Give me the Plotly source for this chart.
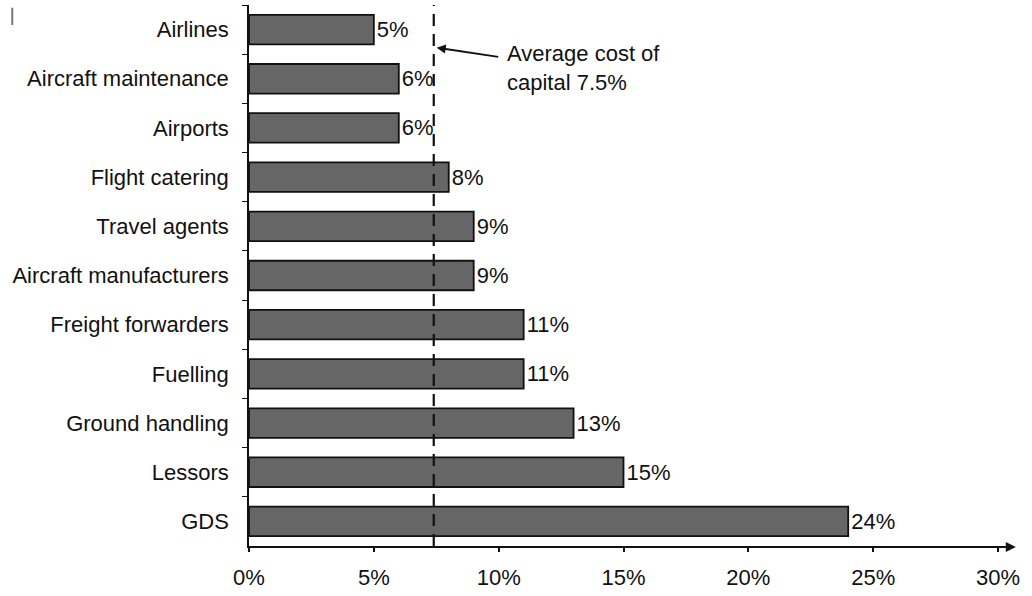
import plotly.graph_objects as go

categories = ["Airlines", "Aircraft maintenance", "Airports", "Flight catering",
              "Travel agents", "Aircraft manufacturers", "Freight forwarders",
              "Fuelling", "Ground handling", "Lessors", "GDS"]
values = [5, 6, 6, 8, 9, 9, 11, 11, 13, 15, 24]
bar_labels = [f"{v}%" for v in values]
avg_cost = 7.4
avg_label = "Average cost of<br>capital 7.5%"
x_ticks = [0, 5, 10, 15, 20, 25, 30]
x_ticktext = [f"{t}%" for t in x_ticks]

FONT = "Liberation Sans, Arial, Helvetica, sans-serif"
FS = 22

fig = go.Figure()
fig.add_trace(go.Bar(
    y=categories, x=values, orientation="h",
    marker=dict(color="#666666", line=dict(color="#111111", width=1.8)),
    width=0.6,
    text=bar_labels, textposition="outside", constraintext="none",
    textfont=dict(size=FS, color="#111111", family=FONT),
    cliponaxis=False,
))

fig.update_layout(
    width=1032, height=596,
    margin=dict(l=249, r=29, t=5, b=50),
    plot_bgcolor="white", paper_bgcolor="white",
    font=dict(family=FONT, size=FS, color="#111111"),
    showlegend=False,
    xaxis=dict(range=[0, 30.2], tickvals=x_ticks, ticktext=x_ticktext,
               showgrid=False, zeroline=False, showline=True,
               linecolor="#111111", linewidth=2, ticks="outside",
               ticklen=4, tickwidth=1.5, tickcolor="#111111",
               ticklabelstandoff=7),
    yaxis=dict(categoryorder="array", categoryarray=categories,
               range=[len(categories) - 0.5, -0.5],
               showgrid=False, zeroline=False, showline=True,
               linecolor="#111111", linewidth=1.5, ticks="outside",
               tickson="boundaries", ticklen=5, tickwidth=1.2,
               tickcolor="#111111", ticklabelstandoff=14),
)

# dashed average line
fig.add_shape(type="line", xref="x", yref="paper", x0=avg_cost, x1=avg_cost,
              y0=0, y1=1, line=dict(color="#111111", width=2.2, dash="12px,8px"))

# arrow pointing to average line
fig.add_annotation(xref="x", yref="paper", x=avg_cost, y=0.922, text="",
                   showarrow=True, ax=66, ay=10, arrowhead=2, arrowsize=1,
                   arrowwidth=1.8, arrowcolor="#111111", standoff=3)
fig.add_annotation(xref="x", yref="paper", x=10.25, y=0.937, text=avg_label,
                   showarrow=False, xanchor="left", yanchor="top", align="left",
                   font=dict(size=FS, color="#111111", family=FONT))

# arrow at end of x axis
fig.add_annotation(xref="paper", yref="paper", x=1.017, y=-0.0018, ax=-40, ay=0,
                   text="", showarrow=True,
                   arrowhead=2, arrowsize=1, arrowwidth=2, arrowcolor="#111111")

# small scan artifact at top-left
fig.add_shape(type="line", xref="paper", yref="paper", x0=-0.314, x1=-0.314,
              y0=0.995, y1=0.963, line=dict(color="#777777", width=2))

fig.write_html("out.html")
